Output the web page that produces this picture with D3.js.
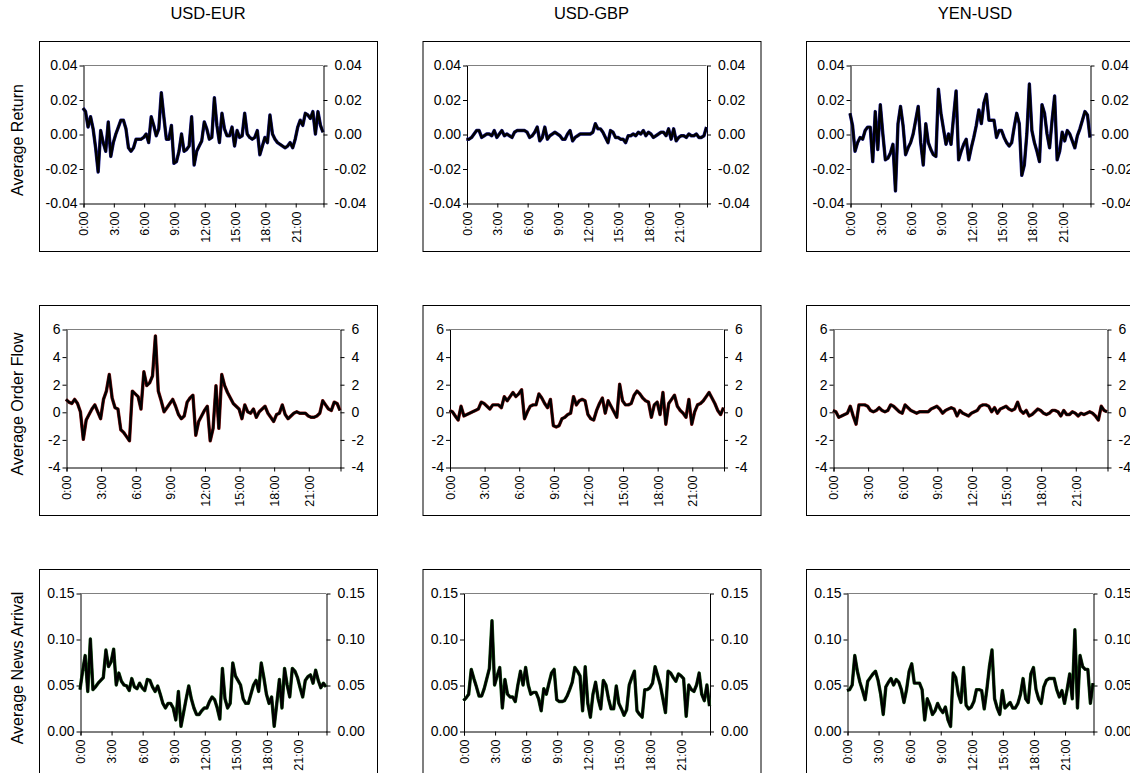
<!DOCTYPE html>
<html><head><meta charset="utf-8">
<script src="https://cdn.jsdelivr.net/npm/d3@7"></script>
<style>
body{margin:0;background:#fff}
svg{display:block}
text{font-family:"Liberation Sans",Arial,sans-serif;fill:#000}
</style>
</head><body>
<svg id="chart" width="1130" height="773"></svg>
<script>
// ---------- data ----------
const currencies = ["USD-EUR", "USD-GBP", "YEN-USD"];
const measures = ["Average Return", "Average Order Flow", "Average News Arrival"];
const timeSlots = d3.range(96).map(i => Math.floor(i / 4) + ":" + String((i % 4) * 15).padStart(2, "0"));
const xTickLabels = ["0:00", "3:00", "6:00", "9:00", "12:00", "15:00", "18:00", "21:00"];
const returnTicks = [-0.04, -0.02, 0, 0.02, 0.04];
const flowTicks = [-4, -2, 0, 2, 4, 6];
const newsTicks = [0, 0.05, 0.10, 0.15];

const returnEUR = [0.015,0.013,0.004,0.010,0.003,-0.008,-0.022,0.002,-0.005,-0.010,
 0.007,-0.013,-0.005,0.000,0.004,0.008,0.008,0.003,-0.008,-0.010,
 -0.008,-0.003,-0.003,-0.003,-0.002,0.000,-0.005,0.010,0.005,-0.001,
 0.003,0.024,0.010,-0.003,-0.003,0.005,-0.017,-0.016,-0.010,0.000,
 -0.010,-0.009,-0.007,0.010,-0.018,-0.010,-0.007,-0.004,0.007,0.003,
 -0.003,-0.002,0.021,0.005,-0.005,0.012,0.003,-0.001,-0.001,0.004,
 -0.007,0.002,-0.002,-0.001,0.012,0.000,-0.002,-0.003,-0.002,0.002,
 -0.012,-0.007,-0.002,-0.005,0.011,0.000,-0.003,-0.005,-0.006,-0.007,
 -0.008,-0.007,-0.005,-0.008,-0.003,0.004,0.008,0.005,0.012,0.011,
 0.009,0.013,0.000,0.013,0.005,0.001];
const returnGBP = [-0.003,-0.003,-0.002,0.000,0.002,0.002,-0.002,-0.001,0.000,0.000,
 -0.001,0.002,-0.002,0.000,0.002,-0.001,0.000,-0.001,-0.002,0.001,
 0.002,0.002,0.002,0.002,0.001,-0.002,-0.001,0.001,0.004,-0.004,
 -0.002,0.004,-0.003,-0.001,0.000,0.001,0.000,-0.001,-0.003,-0.003,
 0.000,0.002,-0.004,-0.002,-0.001,0.000,0.000,0.000,0.000,0.000,
 0.001,0.006,0.003,0.003,0.001,-0.002,-0.005,0.002,0.001,-0.002,
 -0.002,-0.003,-0.003,-0.005,-0.001,-0.001,0.000,-0.001,0.001,0.000,
 0.002,-0.001,0.001,0.000,-0.002,-0.001,0.000,0.001,0.001,-0.001,
 0.003,-0.003,0.003,-0.004,-0.002,-0.001,-0.001,-0.002,0.000,-0.001,
 -0.001,0.000,-0.002,-0.002,-0.001,0.004];
const returnYEN = [0.012,0.005,-0.010,-0.005,-0.002,-0.003,0.002,0.004,0.004,-0.016,
 0.013,-0.009,0.017,0.000,-0.015,-0.014,-0.011,-0.006,-0.033,0.006,
 0.016,0.005,-0.012,-0.008,-0.005,0.000,0.008,0.016,-0.005,-0.018,
 0.006,-0.005,-0.009,-0.012,-0.013,0.026,0.012,0.003,-0.006,0.000,
 -0.006,0.010,0.025,-0.015,-0.010,-0.006,-0.003,-0.015,-0.008,-0.002,
 0.005,0.014,0.006,0.018,0.023,0.008,0.008,0.008,-0.002,0.002,
 0.002,-0.002,-0.005,-0.007,-0.005,0.004,0.012,0.006,-0.024,-0.018,
 0.000,0.029,0.002,-0.005,-0.010,-0.016,0.017,0.012,0.000,-0.008,
 0.008,0.022,-0.015,-0.010,0.001,-0.004,0.002,0.000,-0.004,-0.008,
 -0.001,0.003,0.008,0.013,0.011,-0.002];

const flowEUR = [0.9,0.7,0.6,0.9,0.6,0.0,-2.0,-0.6,-0.2,0.2,
 0.5,0.0,-0.5,0.9,1.5,2.7,1.0,0.3,0.2,-1.3,
 -1.5,-1.8,-2.1,1.5,1.3,1.1,0.2,2.9,1.9,2.1,
 2.6,5.5,1.5,0.8,0.0,0.3,0.6,0.9,0.4,-0.2,
 -0.5,-0.3,0.7,1.0,1.2,-1.7,-0.7,-0.3,0.1,0.4,
 -2.1,-1.2,1.9,-1.2,2.7,1.9,1.4,1.0,0.6,0.4,
 0.2,-0.5,0.5,0.0,-0.1,0.2,-0.4,0.0,0.2,0.4,
 -0.1,-0.4,-0.7,-0.2,-0.1,0.5,-0.2,-0.5,-0.3,-0.1,
 0.0,-0.1,-0.1,-0.1,-0.3,-0.4,-0.4,-0.3,-0.1,0.8,
 0.5,0.2,0.1,0.7,0.6,0.1];
const flowGBP = [0.1,0.0,-0.3,-0.6,0.4,-0.3,-0.2,-0.1,0.0,0.1,
 0.2,0.7,0.6,0.4,0.2,0.5,0.5,0.5,0.3,1.1,
 0.8,1.1,1.4,1.1,1.3,1.6,-0.5,0.0,0.4,0.5,
 0.5,1.3,1.0,0.6,0.3,0.9,-1.0,-1.1,-1.0,-0.5,
 -0.4,-0.2,-0.1,1.1,0.5,0.8,0.9,0.8,-0.2,-0.5,
 -0.6,0.1,0.6,1.0,-0.1,0.8,0.4,0.0,-0.4,2.0,
 0.8,0.5,0.5,0.6,1.2,1.5,1.3,1.0,0.8,0.7,
 -0.4,0.5,0.7,-0.2,1.4,-0.9,0.6,0.9,1.2,0.4,
 0.1,-0.1,-0.4,0.9,-0.9,0.0,0.5,0.6,0.8,1.1,
 1.4,1.0,0.6,0.1,-0.2,0.3];
const flowYEN = [0.1,0.0,-0.4,-0.3,-0.2,-0.1,0.4,-0.3,-0.9,0.5,
 0.5,0.5,0.4,0.1,0.0,0.1,0.3,0.1,0.0,0.1,
 0.5,0.4,0.2,0.0,-0.1,0.5,0.3,0.1,0.0,-0.1,
 0.0,0.0,0.0,0.0,0.2,0.3,0.4,0.2,-0.1,0.1,
 0.2,0.3,0.2,-0.3,0.1,-0.1,-0.2,-0.3,-0.1,0.0,
 0.1,0.4,0.5,0.5,0.4,0.0,0.3,-0.1,0.2,0.3,
 0.4,0.2,0.1,0.2,0.7,0.1,-0.1,0.1,-0.3,-0.2,
 0.0,0.2,0.1,-0.1,-0.2,-0.1,0.1,0.1,0.0,-0.3,
 0.1,-0.2,-0.2,0.0,-0.1,-0.3,-0.1,-0.2,-0.1,0.0,
 -0.1,-0.3,-0.6,0.4,0.1,0.0];

const newsEUR = [0.045,0.065,0.082,0.043,0.100,0.045,0.048,0.052,0.055,0.058,
 0.088,0.070,0.075,0.089,0.050,0.063,0.054,0.050,0.049,0.044,
 0.057,0.048,0.046,0.052,0.047,0.044,0.056,0.055,0.048,0.043,
 0.049,0.040,0.030,0.025,0.030,0.030,0.025,0.012,0.043,0.005,
 0.020,0.035,0.049,0.035,0.025,0.018,0.018,0.022,0.025,0.025,
 0.032,0.037,0.034,0.025,0.013,0.068,0.035,0.025,0.030,0.074,
 0.060,0.055,0.050,0.035,0.030,0.030,0.040,0.050,0.055,0.043,
 0.074,0.058,0.040,0.030,0.037,0.005,0.030,0.056,0.025,0.068,
 0.050,0.037,0.068,0.065,0.058,0.047,0.037,0.055,0.059,0.061,
 0.052,0.066,0.055,0.047,0.052,0.048];
const newsGBP = [0.033,0.036,0.040,0.067,0.057,0.048,0.038,0.038,0.046,0.057,
 0.068,0.120,0.050,0.060,0.069,0.025,0.056,0.040,0.037,0.037,
 0.032,0.050,0.065,0.050,0.069,0.050,0.040,0.042,0.042,0.035,
 0.022,0.046,0.040,0.052,0.063,0.067,0.034,0.032,0.032,0.033,
 0.038,0.045,0.053,0.069,0.065,0.060,0.022,0.070,0.030,0.015,
 0.040,0.053,0.035,0.024,0.055,0.050,0.035,0.024,0.024,0.049,
 0.030,0.024,0.017,0.023,0.050,0.058,0.065,0.022,0.018,0.015,
 0.045,0.045,0.047,0.052,0.070,0.060,0.050,0.035,0.020,0.065,
 0.063,0.058,0.054,0.062,0.060,0.057,0.016,0.050,0.045,0.043,
 0.050,0.063,0.040,0.033,0.050,0.027];
const newsYEN = [0.044,0.045,0.050,0.082,0.065,0.053,0.044,0.034,0.054,0.058,
 0.062,0.065,0.055,0.040,0.018,0.048,0.053,0.057,0.050,0.056,
 0.053,0.045,0.031,0.045,0.065,0.073,0.052,0.052,0.052,0.045,
 0.012,0.035,0.028,0.018,0.022,0.030,0.024,0.020,0.026,0.012,
 0.005,0.063,0.058,0.040,0.031,0.069,0.028,0.024,0.026,0.032,
 0.045,0.045,0.044,0.024,0.045,0.070,0.088,0.035,0.025,0.018,
 0.044,0.025,0.028,0.031,0.025,0.025,0.030,0.040,0.057,0.035,
 0.031,0.062,0.069,0.045,0.035,0.030,0.048,0.055,0.057,0.057,
 0.057,0.045,0.037,0.044,0.030,0.045,0.062,0.035,0.110,0.025,
 0.082,0.070,0.067,0.067,0.030,0.052];

// ---------- layout ----------
const svg = d3.select("#chart");
const boxX = [39, 422.5, 806], boxY = [41, 305, 569], boxW = 338, boxH = 210;
const rows = [
  {ticks: returnTicks, domain: [-0.04, 0.04], fmt: v => v.toFixed(2), left: 44, right: 284,
   series: [returnEUR, returnGBP, returnYEN], under: "#1a1a8c"},
  {ticks: flowTicks, domain: [-4, 6], fmt: v => String(v), left: 27, right: 301,
   series: [flowEUR, flowGBP, flowYEN], under: "#8c1a1a"},
  {ticks: newsTicks, domain: [0, 0.15], fmt: v => v.toFixed(2), left: 41, right: 287,
   series: [newsEUR, newsGBP, newsYEN], under: "#1a5a1a"}
];
const plotTop = 24, plotBottom = 162;

// column titles
currencies.forEach((c, k) => {
  svg.append("text").attr("x", boxX[k] + boxW / 2).attr("y", 19)
    .attr("text-anchor", "middle").style("font-size", "16.5px").text(c);
});
// row titles
measures.forEach((m, r) => {
  svg.append("text").attr("transform", `translate(23,${140 + 264 * r}) rotate(-90)`)
    .attr("text-anchor", "middle").style("font-size", "16px").text(m);
});

rows.forEach((row, r) => {
  currencies.forEach((c, k) => {
    const g = svg.append("g").attr("transform", `translate(${boxX[k]},${boxY[r]})`);
    g.append("rect").attr("x", 0.5).attr("y", 0.5).attr("width", boxW).attr("height", boxH)
      .attr("fill", "#fff").attr("stroke", "#000").attr("stroke-width", 1);

    const x = d3.scalePoint().domain(timeSlots).range([row.left, row.right]);
    const y = d3.scaleLinear().domain(row.domain).range([plotBottom, plotTop]);

    // plot area top border
    g.append("line").attr("x1", row.left).attr("x2", row.right)
      .attr("y1", plotTop + 0.5).attr("y2", plotTop + 0.5).attr("stroke", "#808080");

    const yl = g.append("g").attr("transform", `translate(${row.left + 0.5},0.5)`)
      .call(d3.axisLeft(y).tickValues(row.ticks).tickFormat(row.fmt).tickSize(4).tickSizeOuter(0).tickPadding(2));
    const yr = g.append("g").attr("transform", `translate(${row.right + 0.5},0.5)`)
      .call(d3.axisRight(y).tickValues(row.ticks).tickFormat(row.fmt).tickSize(4).tickSizeOuter(0).tickPadding(7));
    const xb = g.append("g").attr("transform", `translate(0.5,${plotBottom + 0.5})`)
      .call(d3.axisBottom(x).tickValues(xTickLabels).tickSize(4).tickSizeOuter(4));
    xb.selectAll(".tick text")
      .attr("transform", "rotate(-90)").attr("x", -8).attr("y", 0).attr("dy", "0.35em")
      .attr("text-anchor", "end").style("font-size", "12.5px");
    [yl, yr].forEach(a => a.selectAll(".tick text").style("font-size", "14px"));
    [yl, yr, xb].forEach(a => {
      a.selectAll("path,line").attr("stroke", "#000");
      a.selectAll("text").attr("fill", "#000").style("font-family", '"Liberation Sans",Arial,sans-serif');
    });

    const line = d3.line().x((d, i) => x(timeSlots[i])).y(d => y(d));
    const data = row.series[k];
    g.append("path").datum(data).attr("d", line).attr("fill", "none")
      .attr("stroke", row.under).attr("stroke-width", 3.4).attr("stroke-linejoin", "round");
    g.append("path").datum(data).attr("d", line).attr("fill", "none")
      .attr("stroke", "#000").attr("stroke-width", 2.4).attr("stroke-linejoin", "round");
  });
});
</script>
</body></html>
